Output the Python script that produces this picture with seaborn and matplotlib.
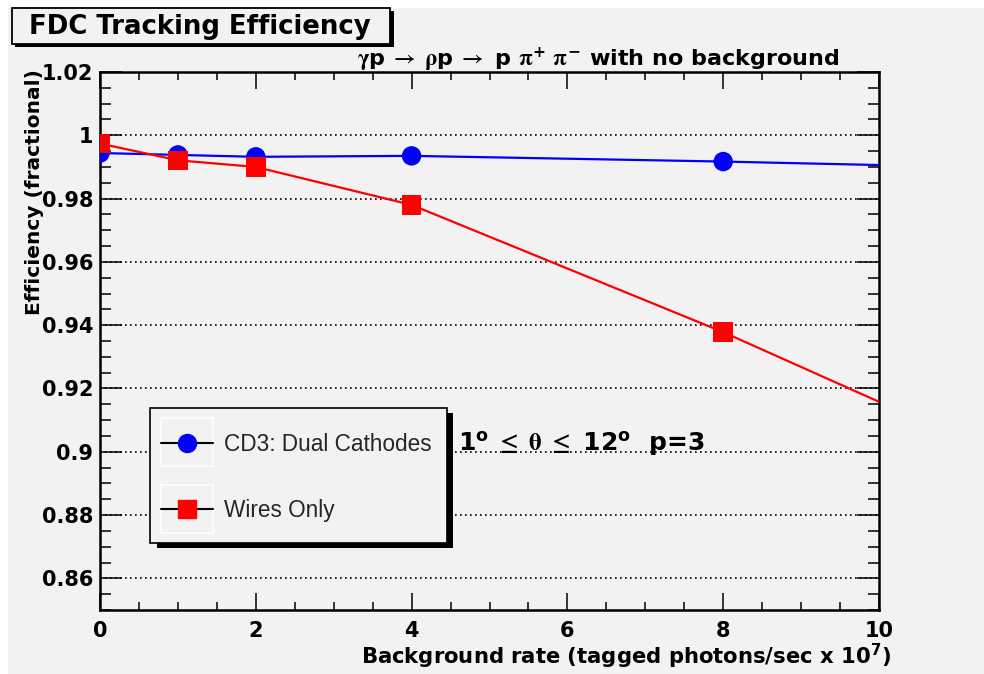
import matplotlib
matplotlib.use("Agg")
import matplotlib.pyplot as plt
import seaborn as sns
import pandas as pd
from matplotlib.patches import Rectangle
from matplotlib.lines import Line2D
from matplotlib.ticker import MultipleLocator

# ---------------- data ----------------
rate = [0, 1, 2, 4, 8]
cd3_eff = [0.9944, 0.9938, 0.9932, 0.9935, 0.9917]
wires_eff = [0.9974, 0.9921, 0.9900, 0.9780, 0.9378]
line_end_rate = 10
cd3_line_end = 0.9906
wires_line_end = 0.9158
series_names = ["CD3: Dual Cathodes", "Wires Only"]
xtick_values = [0, 2, 4, 6, 8, 10]
xtick_labels = ["0", "2", "4", "6", "8", "10"]
ytick_values = [0.86, 0.88, 0.90, 0.92, 0.94, 0.96, 0.98, 1.00, 1.02]
ytick_labels = ["0.86", "0.88", "0.9", "0.92", "0.94", "0.96", "0.98", "1", "1.02"]

# ---------------- style ----------------
sns.set_theme(style="ticks")
plt.rcParams["font.family"] = ["DejaVu Sans"]
plt.rcParams["font.weight"] = "bold"
plt.rcParams["mathtext.fontset"] = "custom"
plt.rcParams["mathtext.rm"] = "STIXGeneral"
plt.rcParams["mathtext.it"] = "STIXGeneral:italic"
plt.rcParams["mathtext.bf"] = "DejaVu Sans:bold"
plt.rcParams["mathtext.sf"] = "DejaVu Sans"
plt.rcParams["mathtext.fallback"] = "stix"

BG = "#f2f2f2"
BLUE = "#0000ff"
RED = "#ff0000"
W, H = 984, 674


def fx(px):
    return px / W


def fy(py):
    return 1 - py / H


fig = plt.figure(figsize=(W / 100, H / 100), dpi=100, facecolor="white")
fig.add_artist(Rectangle((fx(8), 0), 1 - fx(8), fy(8), transform=fig.transFigure,
                         facecolor=BG, edgecolor="none", zorder=-10))

ax = fig.add_axes([fx(100), fy(610), fx(879) - fx(100), fy(72) - fy(610)])
ax.set_facecolor(BG)

cd3_line = pd.DataFrame({"rate": rate + [line_end_rate], "eff": cd3_eff + [cd3_line_end]})
wires_line = pd.DataFrame({"rate": rate + [line_end_rate], "eff": wires_eff + [wires_line_end]})
cd3_pts = pd.DataFrame({"rate": rate, "eff": cd3_eff})
wires_pts = pd.DataFrame({"rate": rate, "eff": wires_eff})

sns.lineplot(data=cd3_line, x="rate", y="eff", color=BLUE, lw=1.6, ax=ax,
             sort=False, estimator=None, zorder=3)
sns.scatterplot(data=cd3_pts, x="rate", y="eff", color=BLUE, marker="o", s=196,
                edgecolor="none", linewidth=0, ax=ax, zorder=4)
sns.lineplot(data=wires_line, x="rate", y="eff", color=RED, lw=1.6, ax=ax,
             sort=False, estimator=None, zorder=5)
sns.scatterplot(data=wires_pts, x="rate", y="eff", color=RED, marker="s", s=196,
                edgecolor="none", linewidth=0, ax=ax, zorder=6)

ax.set_xlim(0, 10)
ax.set_ylim(0.85, 1.02)
ax.set_xlabel("")
ax.set_ylabel("")
ax.set_xticks(xtick_values, xtick_labels)
ax.set_yticks(ytick_values, ytick_labels)
ax.xaxis.set_minor_locator(MultipleLocator(0.5))
ax.yaxis.set_minor_locator(MultipleLocator(0.005))
ax.tick_params(axis="both", which="both", direction="in", top=True, right=True,
               colors="black", width=1.1)
ax.tick_params(axis="y", which="major", length=16, pad=5, labelsize=15)
ax.tick_params(axis="y", which="minor", length=8)
ax.tick_params(axis="x", which="major", length=12, pad=8, labelsize=15)
ax.tick_params(axis="x", which="minor", length=6)
for lbl in ax.get_xticklabels() + ax.get_yticklabels():
    lbl.set_fontweight("bold")
ax.yaxis.grid(True, which="major", color="black", lw=1.2, linestyle=(0, (1, 2)))
ax.xaxis.grid(False)
for sp in ax.spines.values():
    sp.set_color("black")
    sp.set_linewidth(1.8)

# ---------------- texts ----------------
# title box
fig.add_artist(Rectangle((fx(15), fy(47)), fx(394) - fx(15), fy(11) - fy(47),
                         transform=fig.transFigure, facecolor="black", edgecolor="none", zorder=8))
fig.add_artist(Rectangle((fx(12), fy(44)), fx(390) - fx(12), fy(8) - fy(44),
                         transform=fig.transFigure, facecolor=BG, edgecolor="black", lw=1.3, zorder=9))
fig.text(fx(200), fy(27), "FDC Tracking Efficiency", ha="center", va="center",
         fontsize=18.7, fontweight="bold", color="black", zorder=10)

fig.text(fx(598), fy(65),
         r"$\mathrm{\gamma}$p$\ \rightarrow\ \mathrm{\rho}$p$\ \rightarrow$ p "
         r"$\mathrm{\pi}^{\mathbf{+}}\ \mathrm{\pi}^{\mathbf{-}}$ with no background",
         ha="center", va="baseline", fontsize=16, fontweight="bold", color="black")

fig.text(fx(891), fy(663), r"Background rate (tagged photons/sec x 10$^{\mathbf{7}}$)",
         ha="right", va="baseline", fontsize=15.2, fontweight="bold", color="black")

fig.text(fx(35), fy(69), "Efficiency (fractional)", rotation=90, ha="center", va="top",
         fontsize=14.5, fontweight="bold", color="black", zorder=10)

fig.text(fx(458), fy(451),
         r"1$^{\mathbf{o}}\ \leq\ \mathrm{\theta}\ \leq$ 12$^{\mathbf{o}}$  p=3",
         ha="left", va="baseline", fontsize=18, fontweight="bold", color="black", zorder=10)

# ---------------- legend ----------------
fig.add_artist(Rectangle((fx(157), fy(548)), fx(453) - fx(157), fy(413) - fy(548),
                         transform=fig.transFigure, facecolor="black", edgecolor="none", zorder=8))
fig.add_artist(Rectangle((fx(150), fy(543)), fx(447) - fx(150), fy(408) - fy(543),
                         transform=fig.transFigure, facecolor=BG, edgecolor="black", lw=1.2, zorder=9))
for top in (418, 485):
    fig.add_artist(Rectangle((fx(161), fy(top + 48)), fx(213) - fx(161), fy(top) - fy(top + 48),
                             transform=fig.transFigure, facecolor="none", edgecolor="white",
                             lw=1.2, zorder=10))
handles = [
    Line2D([], [], color="black", lw=1.5, marker="o", markersize=13,
           markerfacecolor=BLUE, markeredgecolor=BLUE),
    Line2D([], [], color="black", lw=1.5, marker="s", markersize=13,
           markerfacecolor=RED, markeredgecolor=RED),
]
leg = fig.legend(handles, series_names, loc="upper left", bbox_to_anchor=(fx(161), fy(433)),
                 frameon=False, prop={"family": "Liberation Sans", "size": 16.3, "weight": "normal"},
                 handlelength=2.3, handletextpad=0.5, labelspacing=1.9, borderpad=0,
                 borderaxespad=0)
leg.set_zorder(11)

fig.savefig("out.png", dpi=100, facecolor="white")
